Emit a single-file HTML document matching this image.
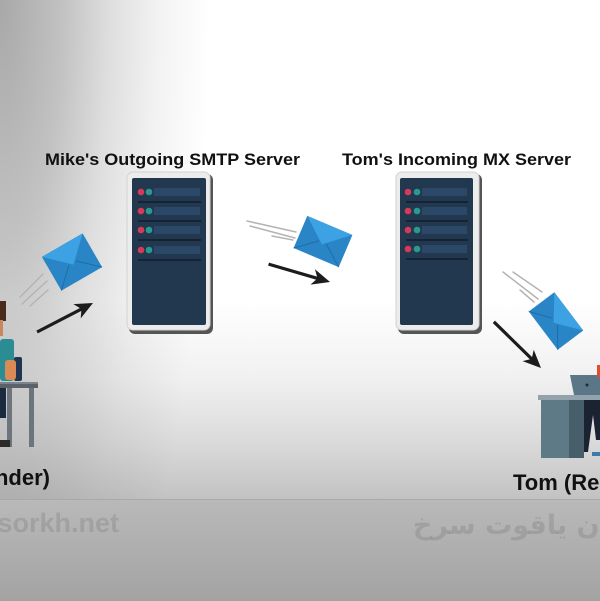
<!DOCTYPE html>
<html>
<head>
<meta charset="utf-8">
<style>
html,body{margin:0;padding:0;}
body{width:600px;height:600px;overflow:hidden;position:relative;background:#fff;}
.bg{position:absolute;left:0;top:0;width:600px;height:499px;
background:
 radial-gradient(ellipse 210px 820px at 0 0, rgba(0,0,0,.34) 0%, rgba(0,0,0,.24) 30%, rgba(0,0,0,.13) 52%, rgba(0,0,0,.05) 75%, rgba(0,0,0,0) 100%),
 linear-gradient(to bottom, rgba(0,0,0,0) 300px, rgba(0,0,0,.06) 380px, rgba(0,0,0,.14) 440px, rgba(0,0,0,.24) 499px),
 #fff;}
.band{position:absolute;left:0;top:499px;width:600px;height:101px;background:linear-gradient(to bottom,#b9b9b9,#a3a3a3);border-top:1px solid #a9a9a9;}
.fa{position:absolute;top:510px;right:-45px;white-space:nowrap;font-family:"DejaVu Sans",sans-serif;font-weight:bold;font-size:27px;color:rgba(0,0,0,.1);direction:rtl;unicode-bidi:embed;}
svg{position:absolute;left:0;top:0;}
</style>
</head>
<body>
<div class="bg"></div>
<div class="band"></div>
<div class="fa">ایران یاقوت سرخ</div>
<svg width="600" height="600" viewBox="0 0 600 600" xmlns="http://www.w3.org/2000/svg">
  <!-- watermark left -->
  <text x="119" y="532" text-anchor="end" font-family="Liberation Sans, sans-serif" font-weight="bold" font-size="27" fill="rgba(0,0,0,0.1)">yaghootsorkh.net</text>

  <!-- titles -->
  <text x="45" y="165" font-family="Liberation Sans, sans-serif" font-weight="bold" font-size="16.5" fill="#111" textLength="255" lengthAdjust="spacingAndGlyphs">Mike's Outgoing SMTP Server</text>
  <text x="342" y="165" font-family="Liberation Sans, sans-serif" font-weight="bold" font-size="16.5" fill="#111" textLength="229" lengthAdjust="spacingAndGlyphs">Tom's Incoming MX Server</text>

  <!-- Server 1 -->
  <rect x="129" y="174" width="84" height="160" rx="6" fill="#555"/>
  <rect x="127" y="172" width="83" height="158" rx="6" fill="#ececec" stroke="#d2d2d2" stroke-width="1"/>
  <rect x="132" y="178" width="74" height="147" rx="2" fill="#22384f"/>
  <g>
    <circle cx="141" cy="192" r="3.3" fill="#d63a5a"/><circle cx="149" cy="192" r="3.3" fill="#2a9a8e"/>
    <rect x="154" y="188" width="46" height="8" fill="#2c4868"/><rect x="138" y="201" width="63" height="2" fill="#142436"/>
    <circle cx="141" cy="211" r="3.3" fill="#d63a5a"/><circle cx="149" cy="211" r="3.3" fill="#2a9a8e"/>
    <rect x="154" y="207" width="46" height="8" fill="#2c4868"/><rect x="138" y="220" width="63" height="2" fill="#142436"/>
    <circle cx="141" cy="230" r="3.3" fill="#d63a5a"/><circle cx="149" cy="230" r="3.3" fill="#2a9a8e"/>
    <rect x="154" y="226" width="46" height="8" fill="#2c4868"/><rect x="138" y="239" width="63" height="2" fill="#142436"/>
    <circle cx="141" cy="250" r="3.3" fill="#d63a5a"/><circle cx="149" cy="250" r="3.3" fill="#2a9a8e"/>
    <rect x="154" y="246" width="46" height="8" fill="#2c4868"/><rect x="138" y="259" width="63" height="2" fill="#142436"/>
  </g>

  <!-- Server 2 -->
  <rect x="398" y="174" width="84" height="160" rx="6" fill="#555"/>
  <rect x="396" y="172" width="83" height="158" rx="6" fill="#ececec" stroke="#d2d2d2" stroke-width="1"/>
  <rect x="400" y="178" width="73" height="147" rx="2" fill="#22384f"/>
  <g>
    <circle cx="408" cy="192" r="3.3" fill="#d63a5a"/><circle cx="417" cy="192" r="3.3" fill="#2a9a8e"/>
    <rect x="422" y="188" width="45" height="8" fill="#2c4868"/><rect x="406" y="201" width="62" height="2" fill="#142436"/>
    <circle cx="408" cy="211" r="3.3" fill="#d63a5a"/><circle cx="417" cy="211" r="3.3" fill="#2a9a8e"/>
    <rect x="422" y="207" width="45" height="8" fill="#2c4868"/><rect x="406" y="220" width="62" height="2" fill="#142436"/>
    <circle cx="408" cy="230" r="3.3" fill="#d63a5a"/><circle cx="417" cy="230" r="3.3" fill="#2a9a8e"/>
    <rect x="422" y="226" width="45" height="8" fill="#2c4868"/><rect x="406" y="239" width="62" height="2" fill="#142436"/>
    <circle cx="408" cy="249" r="3.3" fill="#d63a5a"/><circle cx="417" cy="249" r="3.3" fill="#2a9a8e"/>
    <rect x="422" y="245" width="45" height="8" fill="#2c4868"/><rect x="406" y="258" width="62" height="2" fill="#142436"/>
  </g>

  <!-- speed lines -->
  <g stroke="#b4b4b4" stroke-width="1.5" stroke-linecap="round">
    <line x1="20" y1="297" x2="43" y2="274"/>
    <line x1="22" y1="304" x2="47" y2="281"/>
    <line x1="30" y1="306" x2="48" y2="290"/>
    <line x1="247" y1="221" x2="296" y2="232"/>
    <line x1="250" y1="226" x2="295" y2="238"/>
    <line x1="272" y1="236" x2="293" y2="240"/>
    <line x1="503" y1="272" x2="538" y2="299"/>
    <line x1="513" y1="272" x2="542" y2="292"/>
    <line x1="520" y1="290" x2="534" y2="302"/>
  </g>

  <!-- envelopes -->
  <g transform="translate(72,262) rotate(-30)">
    <rect x="-23.5" y="-19.5" width="47" height="39" fill="#2a85c6"/>
    <polygon points="-23.5,-19.5 23.5,-19.5 0,3" fill="#3ca2e3"/>
    <line x1="-23.5" y1="19.5" x2="-4" y2="1" stroke="#1d6ea8" stroke-width="1"/>
    <line x1="23.5" y1="19.5" x2="4" y2="1" stroke="#1d6ea8" stroke-width="1"/>
  </g>
  <g transform="translate(323,241.5) rotate(23)">
    <rect x="-24.5" y="-17.5" width="49" height="35" fill="#2a85c6"/>
    <polygon points="-24.5,-17.5 24.5,-17.5 0,3" fill="#3ca2e3"/>
    <line x1="-24.5" y1="17.5" x2="-4" y2="1" stroke="#1d6ea8" stroke-width="1"/>
    <line x1="24.5" y1="17.5" x2="4" y2="1" stroke="#1d6ea8" stroke-width="1"/>
  </g>
  <g transform="translate(556,321) rotate(53)">
    <rect x="-24" y="-16" width="48" height="32" fill="#2a85c6"/>
    <polygon points="-24,-16 24,-16 0,3" fill="#3ca2e3"/>
    <line x1="-24" y1="16" x2="-4" y2="1" stroke="#1d6ea8" stroke-width="1"/>
    <line x1="24" y1="16" x2="4" y2="1" stroke="#1d6ea8" stroke-width="1"/>
  </g>

  <!-- arrows -->
  <g fill="#1c1c1c" stroke="#1c1c1c">
    <g transform="translate(93,303) rotate(-27.4)">
      <line x1="-63" y1="0" x2="-12" y2="0" stroke-width="3.2"/>
      <polygon points="0,0 -18,-8 -13,0 -18,8" stroke="none"/>
    </g>
    <g transform="translate(330,282) rotate(16.2)">
      <line x1="-64" y1="0" x2="-12" y2="0" stroke-width="3.2"/>
      <polygon points="0,0 -18,-8 -13,0 -18,8" stroke="none"/>
    </g>
    <g transform="translate(541,368) rotate(44.4)">
      <line x1="-66" y1="0" x2="-12" y2="0" stroke-width="3.2"/>
      <polygon points="0,0 -18,-8 -13,0 -18,8" stroke="none"/>
    </g>
  </g>

  <!-- left person (sender) -->
  <g>
    <rect x="0" y="301" width="6" height="20" fill="#4a2a1c"/>
    <rect x="0" y="320" width="3" height="16" fill="#c9875e"/>
    <rect x="0" y="339" width="14" height="42" rx="3" fill="#2b8c93"/>
    <rect x="14" y="357" width="8" height="24" rx="2" fill="#1f3550"/>
    <rect x="5" y="360" width="11" height="20" rx="3" fill="#d98a55"/>
    <rect x="0" y="388" width="6" height="30" fill="#1c2a40"/>
    <rect x="0" y="382" width="38" height="6" fill="#5a6168"/>
    <rect x="0" y="382" width="38" height="2" fill="#7d858c"/>
    <rect x="7" y="388" width="5" height="59" fill="#6d757c"/>
    <rect x="29" y="388" width="5" height="59" fill="#6d757c"/>
    <rect x="0" y="440" width="10" height="7" fill="#2a2a2a"/>
  </g>

  <!-- right person (receiver) -->
  <g>
    <polygon points="570,375 600,375 600,395 574,395" fill="#5b7686"/>
    <circle cx="587" cy="385" r="1.5" fill="#1d2c38"/>
    <rect x="597" y="365" width="3" height="12" fill="#d9502e"/>
    <rect x="538" y="395" width="62" height="5" fill="#93a3ab"/>
    <rect x="541" y="400" width="28" height="58" fill="#5f7a87"/>
    <rect x="569" y="400" width="15" height="58" fill="#465f6b"/>
    <polygon points="584,400 600,400 600,440 596,440 593,415 588,452 584,452" fill="#1b2333"/>
    <rect x="592" y="452" width="8" height="4" fill="#3c7bb0"/>
  </g>

  <!-- bottom labels -->
  <text x="50" y="485" text-anchor="end" font-family="Liberation Sans, sans-serif" font-weight="bold" font-size="22" fill="#111">Mike (Sender)</text>
  <text x="513" y="490" font-family="Liberation Sans, sans-serif" font-weight="bold" font-size="22" fill="#111">Tom (Receiver)</text>
</svg>
</body>
</html>
